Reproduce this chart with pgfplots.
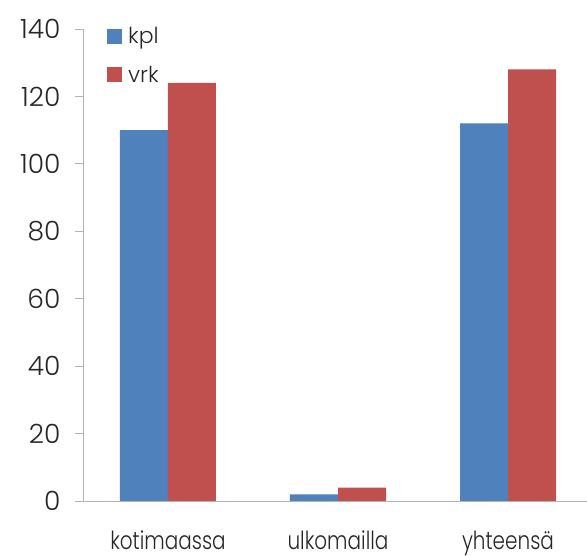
\documentclass[border=0pt]{standalone}
\usepackage{fontspec}
\setmainfont{Poppins}[UprightFont=* Light]
\newfontfamily\narrowfont{Poppins}[UprightFont=* Light, FakeStretch=0.8]
\usepackage{pgfplots}
\pgfplotsset{compat=1.18}

\definecolor{kplblue}{HTML}{4F81BD}
\definecolor{vrkred}{HTML}{C0504D}
\definecolor{axisgray}{HTML}{B3B3B3}
\definecolor{txt}{HTML}{262626}

\begin{document}
\begin{tikzpicture}
\begin{axis}[
  scale only axis,
  width=504pt, height=472pt,
  ybar=0pt, bar width=48pt,
  xmin=-0.5, xmax=2.4647,
  ymin=0, ymax=140,
  ytick={0,20,...,140},
  xtick={0,1,2},
  xticklabels={kotimaassa, ulkomailla, yhteensä},
  extra x ticks={-0.5,0.5,1.5},
  extra x tick labels={},
  extra x tick style={major tick length=8pt, tick style={draw=axisgray, line width=0.8pt}},
  axis x line*=bottom, axis y line*=left,
  axis line style={draw=axisgray, line width=0.8pt, -},
  x tick style={draw=none},
  y tick style={draw=axisgray, line width=0.8pt},
  tick align=outside, major tick length=8pt,
  /pgf/number format/assume math mode=true,
  yticklabel style={font=\fontsize{26.5}{30}\selectfont, text=txt, xshift=-11pt},
  xticklabel style={font=\narrowfont\fontsize{25}{28}\selectfont, text=txt, yshift=-18pt},
  legend style={at={(0,1)}, anchor=north west, xshift=24pt, yshift=2pt,
    draw=none, fill=none, font=\fontsize{22}{26}\selectfont, text=txt,
    row sep=21pt, inner sep=0pt, nodes={inner xsep=6pt, inner ysep=0pt}},
  legend cell align=left,
  legend image code/.code={\fill[#1] (0pt,-7.5pt) rectangle (15pt,7.5pt);},
  clip=false,
]
\addplot[fill=kplblue, draw=none] coordinates {(0,110) (1,2) (2,112)};
\addplot[fill=vrkred, draw=none] coordinates {(0,124) (1,4) (2,128)};
\legend{kpl, vrk}
\coordinate (lo) at (rel axis cs:0,0);
\coordinate (hi) at (rel axis cs:1,1);
\end{axis}
\pgfresetboundingbox
\useasboundingbox ([shift={(-83pt,-56pt)}]lo) rectangle ([shift={(0pt,29pt)}]hi);
\end{tikzpicture}
\end{document}
